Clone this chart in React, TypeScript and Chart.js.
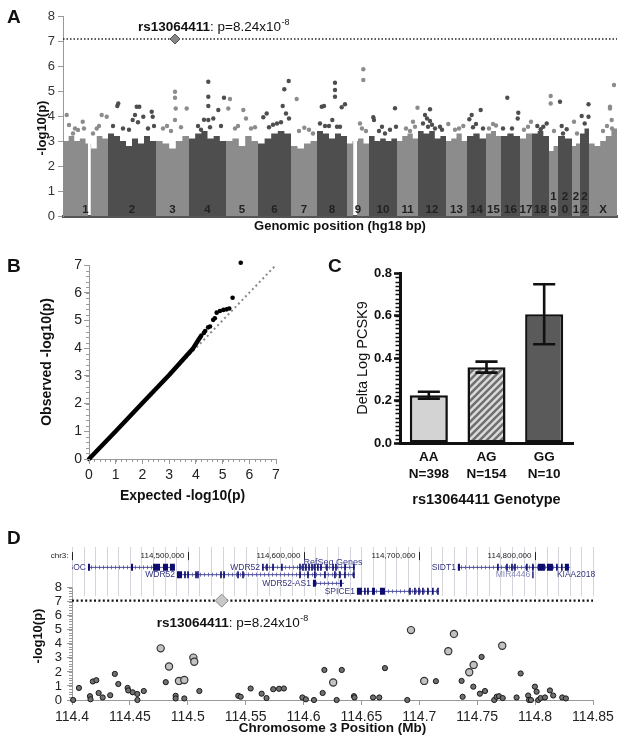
import React, { useEffect, useRef } from 'react';
import { Chart, registerables } from 'chart.js';

Chart.register(...registerables);

const FONT = "'Liberation Sans', Arial, Helvetica, sans-serif";
Chart.defaults.font.family = FONT;

/* ===================== DATA ===================== */

// ---- Panel A: Manhattan plot ----
const CHROMS = ['1','2','3','4','5','6','7','8','9','10','11','12','13','14','15','16','17','18','19','20','21','22','X'];
const STACKED_LABELS = ['19','20','21','22'];
const CHR_START = [0,45,93,126,163,195,228,254,284,306,334,355,383,404,423,438,457,469,486,495,509,517,526];
const CHR_END   = [45,93,126,163,195,228,254,284,306,334,355,383,404,423,438,457,469,486,495,509,517,526,554];
const CHR_GAPS = [[25,27.5],[290.5,294]];
const GENOME_MAX = 554;
const BULK_TOP = [
  [3.0,3.2,3.0,3.1,2.9,2.7,3.2,3.1],
  [3.3,3.2,3.0,2.8,3.1,2.9,3.2,3.0],
  [3.0,2.9,2.7,3.0,3.2],
  [3.1,3.3,3.4,3.1,3.2,3.0],
  [3.0,3.1,2.8,3.2,3.0],
  [2.9,3.1,3.3,3.4,3.3],
  [2.8,2.7,2.9,3.0],
  [3.4,3.3,3.1,3.3,3.2],
  [2.9,3.0,3.1,2.9],
  [3.2,3.0,3.1,3.0,3.1],
  [3.0,3.2,3.3,3.1],
  [3.4,3.3,3.4,3.1,3.2],
  [3.0,3.1,3.3,3.0],
  [3.2,3.3,3.1],
  [3.3,3.4,3.2],
  [3.2,3.3,3.2],
  [3.1,3.3],
  [3.3,3.4,3.2],
  [2.6,2.8],
  [3.2,3.1],
  [2.8,2.9],
  [3.3,3.5],
  [2.9,2.8,3.0,3.2,3.5],
];
// [chromosome index, position, -log10(p)]
const MANHATTAN = [
  [0,3.7,4.04],[0,6,3.64],[0,10,3.3],[0,12,3.5],[0,15,3.44],[0,19.7,3.77],[0,21,3.5],[0,30,3.3],[0,33.7,3.5],[0,36,3.6],[0,38.7,4.04],[0,43.7,3.97],
  [1,50,3.6],[1,54.3,4.4],[1,55.3,4.5],[1,60,3.5],[1,66,3.45],[1,69.7,3.84],[1,72,4.04],[1,73.7,4.37],[1,76.3,4.37],[1,75,3.75],[1,80.3,3.97],[1,85,3.5],[1,88.7,4.17],[1,89.7,3.97],[1,91,3.6],
  [2,100,3.5],[2,104,3.6],[2,108,3.4],[2,112,4.97],[2,112,4.73],[2,112.7,4.3],[2,112,3.84],[2,118,3.55],[2,123.7,4.3],
  [3,135,3.6],[3,138,3.45],[3,141,3.85],[3,145.3,5.37],[3,145.3,4.77],[3,145.3,4.4],[3,145.3,3.84],[3,147,3.55],[3,150.3,3.9],[3,155.3,4.24],[3,158,3.6],[3,161,4.73],
  [4,165.3,4.3],[4,167,4.68],[4,172,3.5],[4,175,3.6],[4,180.3,4.24],[4,183,3.9],[4,188,3.5],[4,192,3.55],
  [5,200.3,3.95],[5,203.7,4.1],[5,206,3.55],[5,210,3.65],[5,214,3.7],[5,218,3.75],[5,219.7,4.4],[5,221.3,5.07],[5,223,4.1],[5,225.7,5.4],[5,226,3.9],
  [6,233.7,4.68],[6,236,3.4],[6,241.3,3.53],[6,246,3.45],[6,250,3.3],
  [7,257,3.7],[7,258.7,4.37],[7,261,4.4],[7,262,3.6],[7,266,3.6],[7,269.3,3.84],[7,272,5.33],[7,272,5.04],[7,272,4.77],[7,274,3.57],[7,277,3.57],[7,278.7,4.35],[7,282,4.47],
  [8,297,3.7],[8,299,3.5],[8,300.3,5.87],[8,300.3,5.44],[8,303,3.4],
  [9,310.3,3.95],[9,311,3.84],[9,316,3.4],[9,319,3.57],[9,322,3.3],[9,327,3.45],[9,332,4.31],[9,333,3.57],
  [10,343,3.5],[10,347,3.4],[10,350,3.77],[10,352,3.57],[10,354.5,4.33],
  [11,360,3.7],[11,362,4.04],[11,364,3.9],[11,365,3.57],[11,367,4.27],[11,367,3.8],[11,369,3.65],[11,372,3.5],[11,377,3.57],[11,379,3.45],
  [12,385.3,3.68],[12,392,3.45],[12,396,3.5],[12,400.3,3.6],
  [13,406.3,3.87],[13,408.7,4.04],[13,410,3.55],[13,413,3.68],[13,417.7,4.24],[13,420,3.5],
  [14,426,3.5],[14,430,3.68],[14,433,3.62],
  [15,440,3.5],[15,444.3,4.73],[15,449,3.5],[15,454.7,3.9],[15,455.3,4.13],
  [16,461,3.45],[16,465,3.57],[16,468,3.77],
  [17,474.3,3.6],[17,477.7,3.47],[17,480.3,3.57],[17,483.7,3.7],
  [18,487.7,4.8],[18,487.7,4.5],[18,491,3.4],
  [19,497,4.57],[19,498.7,3.6],[19,500,3.3],[19,503.7,3.47],
  [20,511,3.77],[20,514,3.3],
  [21,518.7,4.0],[21,521.7,3.7],[21,525.5,4.47],[21,525.5,3.97],
  [22,540,3.4],[22,544,3.6],[22,547,4.37],[22,547,4.3],[22,548.7,3.84],[22,549,3.5],[22,551,5.24],
];
const TOP_SNP = 'rs13064411';
const TOP_P_TEXT = 'p=8.24x10';
const TOP_P_EXP = '-8';
const TOP_LOGP = 7.08;
const TOP_GENOME_POS = 112;
const TOP_MB = 114.5293;

// ---- Panel B: QQ plot ----
const QQ_BULK_EXP = [0, 1, 2, 3, 3.9, 4.1, 4.2];
const QQ_BULK_OBS = [0, 1, 2.02, 3.03, 4.0, 4.3, 4.45];
const QQ_TAIL_EXP = [4.3, 4.35, 4.46, 4.53, 4.65, 4.71, 4.78, 4.9, 5.03, 5.15, 5.25, 5.375, 5.68];
const QQ_TAIL_OBS = [4.55, 4.62, 4.75, 4.78, 5.02, 5.08, 5.28, 5.34, 5.38, 5.4, 5.43, 5.82, 7.08];
const QQ_MAX = 7;

// ---- Panel C: bar chart ----
const GENOTYPES = ['AA', 'AG', 'GG'];
const GENO_N = ['N=398', 'N=154', 'N=10'];
const PCSK9_MEAN = [0.225, 0.357, 0.606];
const PCSK9_SEM = [0.016, 0.026, 0.141];

// ---- Panel D: regional plot ----
const REGION_X_TICKS = [114.4, 114.45, 114.5, 114.55, 114.6, 114.65, 114.7, 114.75, 114.8, 114.85];
const REGION_Y_TICKS = [0, 1, 2, 3, 4, 5, 6, 7, 8];
const REGION_SMALL_MB = [114.401,114.406,114.4155,114.416,114.418,114.421,114.423,114.4265,114.433,114.437,114.44,114.448,114.4486,114.4524,114.4564,114.4565,114.462,114.481,114.4895,114.4895,114.497,114.51,114.5436,114.5457,114.5543,114.5638,114.568,114.5738,114.5788,114.583,114.599,114.602,114.609,114.6165,114.618,114.6286,114.633,114.6435,114.644,114.66,114.6654,114.6703,114.6896,114.7143,114.7365,114.7374,114.7466,114.7523,114.7538,114.7567,114.7647,114.7668,114.7688,114.772,114.784,114.7875,114.794,114.7948,114.7964,114.7998,114.8013,114.8027,114.8047,114.8085,114.8128,114.8156,114.8234,114.8266];
const REGION_SMALL_LOGP = [0.0,0.86,0.27,0.05,1.32,1.41,0.5,0.18,0.34,1.86,1.14,0.86,0.68,0.55,0.43,0.0,0.64,1.27,0.3,0.11,0.11,0.64,0.3,0.23,0.82,0.45,0.14,0.77,0.8,0.82,0.18,0.05,0.0,0.5,2.14,0.0,2.14,0.27,0.18,0.18,0.18,2.27,0.0,1.34,1.36,0.23,0.95,0.45,3.07,0.64,0.0,0.23,0.27,0.14,0.18,1.89,0.32,0.0,0.0,0.95,0.59,0.0,0.14,0.18,0.68,0.32,0.18,0.11];
const REGION_LARGE_MB = [114.4766,114.4838,114.4924,114.497,114.5048,114.5056,114.6256,114.6928,114.7042,114.725,114.7299,114.7431,114.7469,114.7716];
const REGION_LARGE_LOGP = [3.68,2.39,1.36,1.43,3.02,2.73,1.25,4.98,1.36,3.48,4.71,1.98,2.5,3.87];

// gene track (UCSC RefSeq genes)
const RULER_POS = [114.4, 114.5, 114.6, 114.7, 114.8];
const RULER_LABEL = ['chr3:', '114,500,000', '114,600,000', '114,700,000', '114,800,000'];
const TRACK_TITLE = 'RefSeq Genes';
const TRACK_TITLE_MB = 114.6254;
const GENE_NAMES = ['BOC', 'WDR52', 'WDR52', 'WDR52-AS1', 'SPICE1', 'SIDT1', 'MIR4446'];
const GENE_ROWS = [1, 1, 2, 3, 4, 1, 2];
const GENE_START = [114.4138, 114.5641, 114.4907, 114.6081, 114.6461, 114.7333, 114.7975];
const GENE_END = [114.4889, 114.6444, 114.6444, 114.6349, 114.7169, 114.83, 114.7987];
const GENE_EXONS = [
  [[114.4138,114.4155],[114.451,114.4527],[114.470,114.476],[114.4786,114.4829],[114.4846,114.4889]],
  [[114.5642,114.5656],[114.5677,114.5691],[114.5729,114.5743],[114.5806,114.582],[114.5962,114.5976],[114.5988,114.6002],[114.6014,114.6028],[114.604,114.6054],[114.6066,114.608],[114.6091,114.6105],[114.6117,114.6131],[114.6143,114.6157],[114.6195,114.6209],[114.6247,114.6261],[114.6273,114.6287],[114.6351,114.6365],[114.6428,114.6442]],
  [[114.4907,114.495],[114.4969,114.4983],[114.4995,114.5009],[114.5064,114.5078],[114.5081,114.5095],[114.528,114.5294],[114.5306,114.532],[114.5427,114.5441],[114.547,114.5484],[114.5962,114.5976],[114.6031,114.6045],[114.6091,114.6105],[114.6178,114.6192],[114.6264,114.6278],[114.6307,114.6321],[114.6351,114.6365],[114.6428,114.6442]],
  [[114.6081,114.6107],[114.6314,114.6332]],
  [[114.6461,114.6504],[114.6523,114.6537],[114.6549,114.6563],[114.6591,114.6617],[114.666,114.6703],[114.6912,114.6926],[114.6955,114.6969],[114.699,114.7004],[114.7024,114.7038],[114.7067,114.7081],[114.711,114.7124],[114.7154,114.7168]],
  [[114.7333,114.7351],[114.7672,114.7686],[114.775,114.7764],[114.7793,114.7807],[114.7819,114.7833],[114.7922,114.7936],[114.7974,114.7988],[114.8024,114.8085],[114.8102,114.8154],[114.8181,114.8195],[114.8224,114.8238],[114.8257,114.8292]],
  [[114.7975,114.7987]],
];
const EXTRA_LABEL = 'KIAA2018';
const EXTRA_LABEL_MB = 114.8188;
const EXTRA_LABEL_ROW = 2;

/* ===================== STYLE CONSTANTS ===================== */
const LIGHT = '#8c8c8c';
const DARK = '#4e4e4e';
const ROW_Y = [9.82, 9.45, 8.93, 8.31, 7.74]; // track title row, then gene rows 1-4 (axis units)
const RULER_Y = 10.25;
const TRACK_TOP = 10.9;
const TRACK_BOTTOM = 7.4;

const baseOptions = () => ({
  animation: false,
  responsive: false,
  maintainAspectRatio: false,
  events: [],
  plugins: { legend: { display: false }, tooltip: { enabled: false } },
});

function drawRotated(ctx, text, x, y, font, color) {
  ctx.save();
  ctx.translate(x, y);
  ctx.rotate(-Math.PI / 2);
  ctx.font = font;
  ctx.fillStyle = color;
  ctx.textAlign = 'center';
  ctx.textBaseline = 'middle';
  ctx.fillText(text, 0, 0);
  ctx.restore();
}

function drawSnpLabel(ctx, x, y, size) {
  ctx.save();
  ctx.textAlign = 'left';
  ctx.textBaseline = 'alphabetic';
  ctx.fillStyle = '#111';
  ctx.font = `bold ${size}px ${FONT}`;
  ctx.fillText(TOP_SNP, x, y);
  let w = ctx.measureText(TOP_SNP).width;
  ctx.font = `${size}px ${FONT}`;
  const t = ': ' + TOP_P_TEXT;
  ctx.fillText(t, x + w, y);
  w += ctx.measureText(t).width;
  ctx.font = `${Math.round(size * 0.66)}px ${FONT}`;
  ctx.fillText(TOP_P_EXP, x + w + 0.5, y - size * 0.42);
  ctx.restore();
}

function minorTicksY(ctx, scale, x, max, step, len, color, width) {
  ctx.save();
  ctx.strokeStyle = color;
  ctx.lineWidth = width;
  ctx.beginPath();
  const n = Math.round(max / step);
  for (let i = 0; i <= n; i++) {
    const v = i * step;
    const py = Math.round(scale.getPixelForValue(v)) + 0.5;
    ctx.moveTo(x - len, py);
    ctx.lineTo(x, py);
  }
  ctx.stroke();
  ctx.restore();
}

function minorTicksX(ctx, scale, y, max, step, len, color, width) {
  ctx.save();
  ctx.strokeStyle = color;
  ctx.lineWidth = width;
  ctx.beginPath();
  const n = Math.round(max / step);
  for (let i = 0; i <= n; i++) {
    const v = i * step;
    const px = Math.round(scale.getPixelForValue(v)) + 0.5;
    ctx.moveTo(px, y);
    ctx.lineTo(px, y + len);
  }
  ctx.stroke();
  ctx.restore();
}

/* ===================== PANEL A ===================== */
function bulkPolygons() {
  const out = [];
  CHROMS.forEach((_, i) => {
    const s = CHR_START[i], e = CHR_END[i], tops = BULK_TOP[i];
    const w = (e - s) / tops.length;
    let pieces = [[s, e]];
    CHR_GAPS.forEach(([g0, g1]) => {
      pieces = pieces.flatMap(([a, b]) => (g0 > a && g1 < b ? [[a, g0], [g1, b]] : [[a, b]]));
    });
    pieces.forEach(([a, b]) => {
      const pts = [{ x: a, y: 0 }];
      tops.forEach((h, k) => {
        const l = Math.max(s + k * w, a), r = Math.min(s + (k + 1) * w, b);
        if (r > l) pts.push({ x: l, y: h }, { x: r, y: h });
      });
      pts.push({ x: b, y: 0 });
      out.push({ chr: i, pts });
    });
  });
  return out;
}

function configA() {
  const datasets = [];
  bulkPolygons().forEach(({ chr, pts }) => {
    datasets.push({
      data: pts, fill: 'origin', backgroundColor: chr % 2 === 0 ? LIGHT : DARK,
      borderWidth: 0, borderColor: 'rgba(0,0,0,0)', pointRadius: 0, tension: 0, order: 10,
    });
  });
  [0, 1].forEach((parity) => {
    datasets.push({
      showLine: false,
      data: MANHATTAN.filter((p) => p[0] % 2 === parity).map((p) => ({ x: p[1], y: p[2] })),
      pointRadius: 2.2, pointBorderWidth: 0,
      pointBackgroundColor: parity === 0 ? LIGHT : DARK, order: 5,
    });
  });
  datasets.push({
    data: [{ x: 0, y: TOP_LOGP }, { x: GENOME_MAX, y: TOP_LOGP }],
    borderColor: '#222', borderWidth: 1.5, borderDash: [1.5, 2], pointRadius: 0, order: 3,
  });
  datasets.push({
    showLine: false, data: [{ x: TOP_GENOME_POS, y: TOP_LOGP }],
    pointStyle: 'rectRot', pointRadius: 5, pointBackgroundColor: '#868686',
    pointBorderColor: '#555', pointBorderWidth: 1, order: 1, clip: false,
  });

  const deco = {
    id: 'manDeco',
    afterDatasetsDraw(chart) {
      const { ctx, scales: { x, y } } = chart;
      ctx.save();
      ctx.font = `bold 11.5px ${FONT}`;
      ctx.fillStyle = '#222';
      ctx.textAlign = 'center';
      ctx.textBaseline = 'middle';
      CHROMS.forEach((c, i) => {
        const cx = x.getPixelForValue((CHR_START[i] + CHR_END[i]) / 2);
        if (STACKED_LABELS.includes(c)) {
          ctx.fillText(c[0], cx, y.getPixelForValue(0.76));
          ctx.fillText(c[1], cx, y.getPixelForValue(0.24));
        } else {
          ctx.fillText(c, cx, y.getPixelForValue(0.26));
        }
      });
      ctx.restore();
      drawSnpLabel(ctx, x.getPixelForValue(TOP_GENOME_POS) - 37, y.getPixelForValue(TOP_LOGP) - 8, 13.5);
      drawRotated(ctx, '-log10(p)', 42, 128, `bold 13px ${FONT}`, '#111');
    },
  };

  const opts = baseOptions();
  opts.layout = { padding: { left: 0, right: 7, top: 16, bottom: 0 } };
  opts.scales = {
    x: {
      type: 'linear', min: 0, max: GENOME_MAX,
      afterFit: (s) => { s.height = 20; },
      ticks: { display: false },
      grid: { display: false, drawTicks: false },
      border: { display: true, color: '#555', width: 3 },
      title: { display: true, text: 'Genomic position (hg18 bp)', color: '#111', font: { size: 13, weight: 'bold' }, padding: { top: 0, bottom: 2 } },
    },
    y: {
      type: 'linear', min: 0, max: 8,
      afterFit: (s) => { s.width = 63; },
      ticks: { stepSize: 1, color: '#333', font: { size: 13 }, padding: 3 },
      grid: { display: true, drawOnChartArea: false, tickLength: 5, color: '#999' },
      border: { display: true, color: '#999', width: 1 },
    },
  };
  return { type: 'line', data: { datasets }, options: opts, plugins: [deco] };
}

/* ===================== PANEL B ===================== */
function configB() {
  const datasets = [
    {
      data: [{ x: 0, y: 0 }, { x: QQ_MAX, y: QQ_MAX }],
      borderColor: '#8a8a8a', borderWidth: 2, borderDash: [2, 3], pointRadius: 0, order: 10,
    },
    {
      data: QQ_BULK_EXP.map((v, i) => ({ x: v, y: QQ_BULK_OBS[i] })),
      borderColor: '#000', borderWidth: 4.5, borderCapStyle: 'round', borderJoinStyle: 'round',
      pointRadius: 0, order: 5, clip: false,
    },
    {
      showLine: false,
      data: QQ_TAIL_EXP.map((v, i) => ({ x: v, y: QQ_TAIL_OBS[i] })),
      pointRadius: 2.3, pointBorderWidth: 0, pointBackgroundColor: '#000', order: 1, clip: false,
    },
  ];
  const deco = {
    id: 'qqDeco',
    afterDraw(chart) {
      const { ctx, scales: { x, y }, chartArea } = chart;
      minorTicksX(ctx, x, chartArea.bottom, QQ_MAX, 0.2, 3, '#999', 1);
      minorTicksY(ctx, y, chartArea.left, QQ_MAX, 0.2, 3, '#999', 1);
    },
  };
  const axis = (titleText, isX) => ({
    type: 'linear', min: 0, max: QQ_MAX,
    afterFit: (s) => { if (isX) s.height = 46; else s.width = 89; },
    ticks: { stepSize: 1, color: '#222', font: { size: 14 }, padding: isX ? 2.6 : 2 },
    grid: { display: true, drawOnChartArea: false, tickLength: 5, color: '#999' },
    border: { display: true, color: '#999', width: 1 },
    title: {
      display: true, text: titleText, color: '#111', font: { size: 14, weight: 'bold' },
      padding: isX ? { top: 0, bottom: 0 } : { top: 38.6, bottom: 0 },
    },
  });
  const opts = baseOptions();
  opts.layout = { padding: { left: 0, right: 24, top: 30, bottom: 0 } };
  opts.scales = { x: axis('Expected -log10(p)', true), y: axis('Observed -log10(p)', false) };
  return { type: 'line', data: { datasets }, options: opts, plugins: [deco] };
}

/* ===================== PANEL C ===================== */
function makeHatch() {
  const c = document.createElement('canvas');
  c.width = 7; c.height = 7;
  const g = c.getContext('2d');
  g.fillStyle = '#dcdcdc';
  g.fillRect(0, 0, 7, 7);
  g.strokeStyle = '#707070';
  g.lineWidth = 2.6;
  g.beginPath();
  g.moveTo(-1, 8); g.lineTo(8, -1);
  g.moveTo(-4, 4); g.lineTo(4, -4);
  g.moveTo(3, 11); g.lineTo(11, 3);
  g.stroke();
  return g.createPattern(c, 'repeat');
}

function configC() {
  const hatch = makeHatch();
  const deco = {
    id: 'barDeco',
    afterDatasetsDraw(chart) {
      const { ctx, scales: { y } } = chart;
      const meta = chart.getDatasetMeta(0);
      ctx.save();
      ctx.strokeStyle = '#111';
      ctx.lineWidth = 2.6;
      ctx.lineCap = 'butt';
      meta.data.forEach((bar, i) => {
        const top = y.getPixelForValue(PCSK9_MEAN[i] + PCSK9_SEM[i]);
        const bot = y.getPixelForValue(PCSK9_MEAN[i] - PCSK9_SEM[i]);
        const half = bar.width * 0.29;
        ctx.beginPath();
        ctx.moveTo(bar.x, top); ctx.lineTo(bar.x, bot);
        ctx.moveTo(bar.x - half, top); ctx.lineTo(bar.x + half, top);
        ctx.moveTo(bar.x - half, bot); ctx.lineTo(bar.x + half, bot);
        ctx.stroke();
      });
      ctx.restore();
    },
    afterDraw(chart) {
      const { ctx, scales: { y }, chartArea } = chart;
      minorTicksY(ctx, y, chartArea.left - 1, 0.8, 0.02, 3.5, '#111', 1.3);
    },
  };
  const opts = baseOptions();
  opts.layout = { padding: { left: 0, right: 51, top: 38, bottom: 6 } };
  opts.scales = {
    x: {
      type: 'category',
      afterFit: (s) => { s.height = 66; },
      ticks: { color: '#111', font: { size: 13.5, weight: 'bold' }, padding: 6.6 },
      grid: { display: false, drawTicks: false },
      border: { display: true, color: '#111', width: 3 },
      title: { display: true, text: 'rs13064411 Genotype', color: '#111', font: { size: 14.5, weight: 'bold' }, padding: { top: 0, bottom: 0 } },
    },
    y: {
      type: 'linear', min: 0, max: 0.8,
      afterFit: (s) => { s.width = 100; },
      ticks: { stepSize: 0.2, color: '#111', font: { size: 13, weight: 'bold' }, padding: 2, callback: (v) => Number(v).toFixed(1) },
      grid: { display: true, drawOnChartArea: false, tickLength: 6, tickColor: '#111', tickWidth: 2.5 },
      border: { display: true, color: '#111', width: 3 },
      title: { display: true, text: 'Delta Log PCSK9', color: '#111', font: { size: 14.5 }, padding: { top: 54.3, bottom: 0 } },
    },
  };
  return {
    type: 'bar',
    data: {
      labels: GENOTYPES.map((g, i) => [g, GENO_N[i]]),
      datasets: [{
        data: PCSK9_MEAN,
        backgroundColor: ['#d3d3d3', hatch, '#5a5a5a'],
        borderColor: '#111', borderWidth: 2.6, borderSkipped: false,
        barPercentage: 0.66, categoryPercentage: 1,
      }],
    },
    options: opts,
    plugins: [deco],
  };
}

/* ===================== PANEL D ===================== */
function configD() {
  const datasets = [];
  GENE_NAMES.forEach((_, g) => {
    const row = ROW_Y[GENE_ROWS[g]];
    const pts = [];
    GENE_EXONS[g].forEach(([s, e]) => { pts.push({ x: s, y: row }, { x: e, y: row }, { x: e, y: null }); });
    datasets.push({
      data: pts, borderColor: '#0d0d70', borderWidth: 7, borderCapStyle: 'butt',
      pointRadius: 0, spanGaps: false, order: 2, clip: false,
    });
    if (GENE_END[g] - GENE_START[g] > 0.002) {
      datasets.push({
        data: [{ x: GENE_START[g], y: row }, { x: GENE_END[g], y: row }],
        borderColor: '#4a4a9c', borderWidth: 1, pointRadius: 0, order: 3, clip: false,
      });
    }
  });
  datasets.push({
    data: [{ x: REGION_X_TICKS[0], y: TOP_LOGP }, { x: REGION_X_TICKS[REGION_X_TICKS.length - 1], y: TOP_LOGP }],
    borderColor: '#111', borderWidth: 2.2, borderDash: [2, 2.4], pointRadius: 0, order: 4,
  });
  datasets.push({
    showLine: false,
    data: REGION_SMALL_MB.map((v, i) => ({ x: v, y: REGION_SMALL_LOGP[i] })),
    pointRadius: 2.6, pointBackgroundColor: '#707070', pointBorderColor: '#1a1a1a', pointBorderWidth: 1,
    order: 6, clip: false,
  });
  datasets.push({
    showLine: false,
    data: REGION_LARGE_MB.map((v, i) => ({ x: v, y: REGION_LARGE_LOGP[i] })),
    pointRadius: 3.6, pointBackgroundColor: '#c2c2c2', pointBorderColor: '#333', pointBorderWidth: 1.2,
    order: 5, clip: false,
  });
  datasets.push({
    showLine: false, data: [{ x: TOP_MB, y: TOP_LOGP }],
    pointStyle: 'rectRot', pointRadius: 6.5, pointBackgroundColor: '#c8c8c8',
    pointBorderColor: '#888', pointBorderWidth: 1, order: 0, clip: false,
  });

  const deco = {
    id: 'regionDeco',
    beforeDatasetsDraw(chart) {
      const { ctx, scales: { x, y }, chartArea } = chart;
      ctx.save();
      // track grid lines every 10 kb
      ctx.strokeStyle = '#d4d4dc';
      ctx.lineWidth = 1;
      ctx.beginPath();
      const x0 = REGION_X_TICKS[0], x1 = REGION_X_TICKS[REGION_X_TICKS.length - 1];
      const n = Math.round((x1 - x0) / 0.01);
      for (let i = 0; i <= n; i++) {
        const px = Math.round(x.getPixelForValue(x0 + i * 0.01)) + 0.5;
        ctx.moveTo(px, y.getPixelForValue(TRACK_TOP));
        ctx.lineTo(px, y.getPixelForValue(TRACK_BOTTOM));
      }
      ctx.stroke();
      // ruler
      ctx.fillStyle = '#222';
      ctx.strokeStyle = '#222';
      ctx.font = `8px ${FONT}`;
      ctx.textAlign = 'right';
      ctx.textBaseline = 'middle';
      const ry = y.getPixelForValue(RULER_Y);
      RULER_POS.forEach((p, i) => {
        const px = Math.round(x.getPixelForValue(p)) + 0.5;
        ctx.fillText(RULER_LABEL[i], px - 4, ry);
        ctx.beginPath();
        ctx.moveTo(px, ry - 4); ctx.lineTo(px, ry + 4);
        ctx.stroke();
      });
      // intron direction marks
      ctx.strokeStyle = '#7676b4';
      ctx.lineWidth = 1;
      ctx.beginPath();
      GENE_NAMES.forEach((_, g) => {
        if (GENE_END[g] - GENE_START[g] <= 0.002) return;
        const py = y.getPixelForValue(ROW_Y[GENE_ROWS[g]]);
        const a = x.getPixelForValue(GENE_START[g]), b = x.getPixelForValue(GENE_END[g]);
        for (let px = a + 3; px < b - 1; px += 4) {
          const qx = Math.round(px) + 0.5;
          ctx.moveTo(qx, py - 2); ctx.lineTo(qx, py + 2);
        }
      });
      ctx.stroke();
      // y-axis line from 0 to 8
      ctx.strokeStyle = '#999';
      ctx.beginPath();
      const ax = Math.round(chartArea.left) + 0.5;
      ctx.moveTo(ax, y.getPixelForValue(0));
      ctx.lineTo(ax, y.getPixelForValue(REGION_Y_TICKS[REGION_Y_TICKS.length - 1]));
      ctx.stroke();
      ctx.restore();
      minorTicksY(ctx, y, chartArea.left, REGION_Y_TICKS[REGION_Y_TICKS.length - 1], 0.2, 3, '#999', 1);
    },
    afterDatasetsDraw(chart) {
      const { ctx, scales: { x, y }, chartArea } = chart;
      ctx.save();
      ctx.font = `8.5px ${FONT}`;
      ctx.textBaseline = 'middle';
      GENE_NAMES.forEach((name, g) => {
        const py = y.getPixelForValue(ROW_Y[GENE_ROWS[g]]);
        const px = x.getPixelForValue(GENE_START[g]) - 2;
        ctx.save();
        ctx.beginPath();
        ctx.rect(chartArea.left, 0, chart.width, chart.height);
        ctx.clip();
        ctx.fillStyle = name.startsWith('MIR') ? '#8585b8' : '#34347e';
        ctx.textAlign = 'right';
        ctx.fillText(name, px, py);
        ctx.restore();
      });
      ctx.fillStyle = '#34347e';
      ctx.textAlign = 'left';
      ctx.fillText(EXTRA_LABEL, x.getPixelForValue(EXTRA_LABEL_MB), y.getPixelForValue(ROW_Y[EXTRA_LABEL_ROW]));
      ctx.fillStyle = '#3a3a8c';
      ctx.textAlign = 'center';
      ctx.font = `9px ${FONT}`;
      ctx.fillText(TRACK_TITLE, x.getPixelForValue(TRACK_TITLE_MB), y.getPixelForValue(ROW_Y[0]));
      ctx.restore();
      drawSnpLabel(ctx, x.getPixelForValue(TOP_MB) - 65, y.getPixelForValue(TOP_LOGP) + 26, 13.5);
      drawRotated(ctx, '-log10(p)', 38, 106, `bold 13px ${FONT}`, '#111');
    },
  };

  const opts = baseOptions();
  opts.layout = { padding: { left: 0, right: 31, top: 6, bottom: 0 } };
  opts.scales = {
    x: {
      type: 'linear', min: REGION_X_TICKS[0], max: REGION_X_TICKS[REGION_X_TICKS.length - 1],
      afterFit: (s) => { s.height = 41; },
      afterBuildTicks: (s) => { s.ticks = REGION_X_TICKS.map((v) => ({ value: v })); },
      ticks: { color: '#222', font: { size: 14 }, padding: 3.6, callback: (v) => String(+Number(v).toFixed(2)) },
      grid: { display: true, drawOnChartArea: false, tickLength: 5, color: '#999' },
      border: { display: true, color: '#999', width: 1 },
      title: { display: true, text: 'Chromosome 3 Position (Mb)', color: '#111', font: { size: 13.5, weight: 'bold' }, padding: { top: 0, bottom: 4.9 } },
    },
    y: {
      type: 'linear', min: 0, max: 11.2,
      afterFit: (s) => { s.width = 72; },
      afterBuildTicks: (s) => { s.ticks = REGION_Y_TICKS.map((v) => ({ value: v })); },
      ticks: { color: '#222', font: { size: 13 }, padding: 5 },
      grid: { display: true, drawOnChartArea: false, tickLength: 5, color: '#999' },
      border: { display: false },
    },
  };
  return { type: 'line', data: { datasets }, options: opts, plugins: [deco] };
}

/* ===================== APP ===================== */
const letterStyle = (left, top) => ({
  position: 'absolute', left, top, fontFamily: FONT, fontWeight: 'bold',
  fontSize: 19, lineHeight: '19px', color: '#111',
});

const canvasStyle = (left, top, width, height) => ({
  position: 'absolute', left, top, width, height, display: 'block',
});

export default function App() {
  const aRef = useRef(null);
  const bRef = useRef(null);
  const cRef = useRef(null);
  const dRef = useRef(null);

  useEffect(() => {
    const charts = [
      new Chart(aRef.current, configA()),
      new Chart(bRef.current, configB()),
      new Chart(cRef.current, configC()),
      new Chart(dRef.current, configD()),
    ];
    return () => charts.forEach((c) => c.destroy());
  }, []);

  return (
    <div style={{ position: 'absolute', left: 0, top: 0, width: 624, height: 741, background: '#fff', overflow: 'hidden' }}>
      <canvas ref={aRef} width={624} height={236} style={canvasStyle(0, 0, 624, 236)} />
      <canvas ref={bRef} width={300} height={270} style={canvasStyle(0, 235, 300, 270)} />
      <canvas ref={cRef} width={324} height={280} style={canvasStyle(300, 235, 324, 280)} />
      <canvas ref={dRef} width={624} height={211} style={canvasStyle(0, 530, 624, 211)} />
      <div style={letterStyle(7, 6.5)}>A</div>
      <div style={letterStyle(7, 255.5)}>B</div>
      <div style={letterStyle(328, 255.5)}>C</div>
      <div style={letterStyle(7, 527.5)}>D</div>
    </div>
  );
}
